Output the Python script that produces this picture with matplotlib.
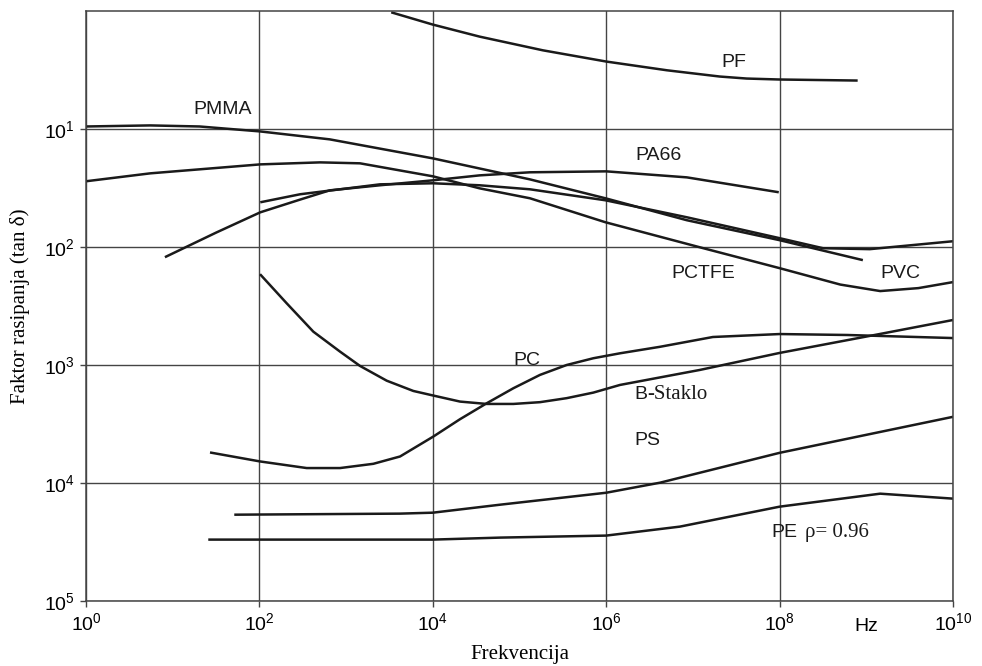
import numpy as np
import matplotlib.pyplot as plt

plt.rcParams['font.family'] = ['Liberation Sans', 'DejaVu Sans']
plt.rcParams['mathtext.fontset'] = 'custom'
plt.rcParams['mathtext.rm'] = 'Liberation Sans'

# curves: log10(frequency), log10(tan delta)
pf_f = [3.52, 4.00, 4.54, 5.27, 6.00, 6.70, 7.31, 7.62, 7.99, 8.90]
pf_t = [-0.014, -0.118, -0.220, -0.336, -0.431, -0.505, -0.558, -0.575, -0.583, -0.592]

pmma_f = [0.00, 0.74, 1.31, 2.01, 2.81, 4.00, 5.12, 5.99, 6.93, 8.00, 8.96]
pmma_t = [-0.981, -0.972, -0.981, -1.023, -1.090, -1.251, -1.429, -1.589, -1.775, -1.944, -2.113]

pa66_f = [0.91, 1.50, 2.01, 2.47, 2.81, 3.39, 4.00, 4.54, 5.12, 6.00, 6.93, 7.99]
pa66_t = [-2.088, -1.880, -1.708, -1.600, -1.522, -1.479, -1.437, -1.395, -1.369, -1.361, -1.412, -1.538]

pctfe_f = [2.01, 2.47, 3.39, 4.00, 4.54, 5.12, 5.99, 6.93, 8.00, 8.50, 9.04, 10.0]
pctfe_t = [-1.623, -1.555, -1.471, -1.462, -1.479, -1.513, -1.606, -1.750, -1.927, -2.012, -2.020, -1.953]

pvc_f = [0.00, 0.74, 2.01, 2.70, 3.16, 4.00, 4.54, 5.12, 5.99, 7.12, 8.00, 8.70, 9.16, 9.60, 10.0]
pvc_t = [-1.445, -1.378, -1.302, -1.285, -1.293, -1.403, -1.505, -1.589, -1.792, -2.012, -2.181, -2.320, -2.375, -2.350, -2.299]

bs_f = [2.007, 2.315, 2.622, 2.930, 3.160, 3.468, 3.775, 4.006, 4.314, 4.622, 4.929,
        5.236, 5.544, 5.851, 6.159, 7.08, 8.00, 9.16, 10.0]
bs_t = [-2.232, -2.479, -2.719, -2.888, -3.009, -3.134, -3.221, -3.260, -3.311, -3.331, -3.331,
        -3.316, -3.282, -3.235, -3.170, -3.043, -2.899, -2.738, -2.620]

pc_f = [1.430, 2.007, 2.545, 2.930, 3.314, 3.622, 4.006, 4.314, 4.622, 4.929, 5.236,
        5.544, 5.851, 6.159, 6.62, 7.23, 8.00, 8.78, 10.0]
pc_t = [-3.742, -3.818, -3.874, -3.874, -3.838, -3.776, -3.607, -3.460, -3.325, -3.198, -3.085,
        -3.001, -2.944, -2.902, -2.847, -2.764, -2.739, -2.747, -2.773]

ps_f = [1.71, 3.62, 4.00, 4.78, 6.00, 6.62, 8.00, 10.0]
ps_t = [-4.269, -4.260, -4.252, -4.184, -4.083, -3.998, -3.745, -3.440]

pe_f = [1.41, 4.00, 4.78, 6.00, 6.85, 8.00, 9.16, 10.0]
pe_t = [-4.480, -4.480, -4.463, -4.446, -4.370, -4.201, -4.091, -4.133]

curves = [(pf_f, pf_t), (pmma_f, pmma_t), (pa66_f, pa66_t), (pctfe_f, pctfe_t),
          (pvc_f, pvc_t), (bs_f, bs_t), (pc_f, pc_t), (ps_f, ps_t), (pe_f, pe_t)]

xticks = [0, 2, 4, 6, 8, 10]
yticks = [-1, -2, -3, -4, -5]
ytick_labels = [r'$\mathregular{10^{1}}$', r'$\mathregular{10^{2}}$', r'$\mathregular{10^{3}}$',
                r'$\mathregular{10^{4}}$', r'$\mathregular{10^{5}}$']
xtick_labels = [r'$\mathregular{10^{%d}}$' % k for k in xticks]

fig = plt.figure(figsize=(9.82, 6.66), dpi=100)
ax = fig.add_axes([0.0876, 0.0976, 0.8829, 0.8864])

for f, t in curves:
    ax.plot(10.0**np.array(f), 10.0**np.array(t), color='#1a1a1a', lw=1.8,
            solid_joinstyle='round', solid_capstyle='butt')

ax.set_xscale('log')
ax.set_yscale('log')
ax.set_xlim(1, 1e10)
ax.set_ylim(1e-5, 1)
ax.set_xticks([10.0**k for k in xticks])
ax.set_xticklabels(xtick_labels)
ax.set_yticks([10.0**k for k in yticks])
ax.set_yticklabels(ytick_labels)
ax.minorticks_off()
ax.tick_params(direction='out', length=4, width=1, color='#444444', labelsize=14, pad=4)
ax.grid(True, color='#444444', lw=1)
for s in ax.spines.values():
    s.set_color('#444444')
    s.set_linewidth(1.1)

ax.text(1e9, -0.028, 'Hz', transform=ax.get_xaxis_transform(), ha='center', va='top', fontsize=14)

serif = ['Liberation Serif', 'DejaVu Serif']
lab = dict(fontsize=14, color='#1a1a1a')
ax.text(10**7.47, 10**-0.44, 'PF', ha='center', va='center', **lab)
ax.text(10**1.57, 10**-0.837, 'PMMA', ha='center', va='center', **lab)
ax.text(10**6.60, 10**-1.226, 'PA66', ha='center', va='center', **lab)
ax.text(10**7.12, 10**-2.223, 'PCTFE', ha='center', va='center', **lab)
ax.text(10**9.39, 10**-2.223, 'PVC', ha='center', va='center', **lab)
ax.text(10**5.09, 10**-2.967, 'PC', ha='center', va='center', **lab)
ax.text(10**6.33, 10**-3.254, 'B', ha='left', va='center', **lab)
ax.text(10**6.47, 10**-3.254, '-Staklo', ha='left', va='center', fontsize=15,
        family=serif, color='#1a1a1a')
ax.text(10**6.48, 10**-3.643, 'PS', ha='center', va='center', **lab)
ax.text(10**7.90, 10**-4.421, 'PE', ha='left', va='center', **lab)
ax.text(10**8.29, 10**-4.421, 'ρ= 0.96', ha='left', va='center', fontsize=15,
        family=serif, color='#1a1a1a')

ax.set_xlabel('Frekvencija', fontsize=15, family=serif, labelpad=8)
ax.set_ylabel('Faktor rasipanja (tan δ)', fontsize=15, family=serif, labelpad=10)

fig.savefig('out.png', dpi=100)
